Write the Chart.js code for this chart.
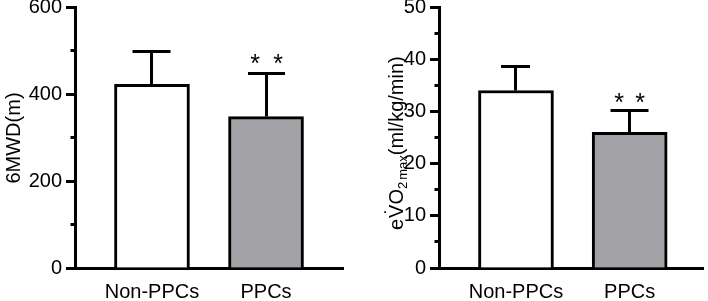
<!DOCTYPE html>
<html><head><meta charset="utf-8">
<script src="https://cdn.jsdelivr.net/npm/chart.js@4.4.1/dist/chart.umd.min.js"></script>
<style>
html,body{margin:0;padding:0;background:#fff;}
#wrap{position:relative;width:708px;height:301px;overflow:hidden;}
.box{position:absolute;top:0;width:354px;height:301px;}
#b1{left:0;} #b2{left:354px;}
canvas{display:block;}
</style></head><body>
<div id="wrap">
  <div class="box" id="b1"><canvas id="c1" width="354" height="301"></canvas></div>
  <div class="box" id="b2"><canvas id="c2" width="354" height="301"></canvas></div>
</div>
<script>
// ---- data ----
const categories = ['Non-PPCs', 'PPCs'];
const mwdMean = [422, 348];
const mwdSD = [76, 100];
const vo2Mean = [34.0, 26.0];
const vo2SD = [4.6, 4.2];
const significance = ['', '**'];
const mwdMajorTicks = [0, 200, 400, 600];
const mwdMinorTicks = [100, 300, 500];
const vo2MajorTicks = [0, 10, 20, 30, 40, 50];
const vo2MinorTicks = [5, 15, 25, 35, 45];
const mwdTitle = '6MWD(m)';
const vo2TitleParts = ['e', 'V', 'O', '2', 'max', '(ml/kg/min)'];

const FAMILY = "'Liberation Sans', Arial, Helvetica, sans-serif";
Chart.defaults.font.family = FAMILY;
Chart.defaults.color = '#000';

const extras = {
  id: 'extras',
  afterDraw(chart, args, o) {
    const ctx = chart.ctx, xs = chart.scales.x, ys = chart.scales.y;
    ctx.save();
    ctx.strokeStyle = '#000';
    ctx.fillStyle = '#000';
    ctx.lineWidth = 3;
    ctx.lineCap = 'butt';
    // minor ticks
    const ax = Math.floor(xs.left) + 0.5;
    o.minor.forEach(v => {
      const py = Math.floor(ys.getPixelForValue(v)) + 0.5;
      ctx.beginPath(); ctx.moveTo(ax - 5, py); ctx.lineTo(ax, py); ctx.stroke();
    });
    // error bars + significance
    o.means.forEach((m, i) => {
      const px = Math.floor(xs.getPixelForValue(i)) + 0.5;
      const top = Math.floor(ys.getPixelForValue(m + o.sd[i])) + 0.5;
      const base = ys.getPixelForValue(m);
      const hw = o.capWidths[i] / 2;
      ctx.beginPath();
      ctx.moveTo(px, base); ctx.lineTo(px, top);
      ctx.moveTo(px - hw, top); ctx.lineTo(px + hw, top);
      ctx.stroke();
      const sig = o.sig[i];
      if (sig) {
        ctx.font = '25px ' + FAMILY;
        ctx.textAlign = 'center';
        ctx.textBaseline = 'alphabetic';
        const n = sig.length;
        for (let k = 0; k < n; k++) {
          const sx = px + (k - (n - 1) / 2) * o.starGap;
          ctx.fillText(sig[k], sx, top - o.starOffset + 14.3);
        }
      }
    });
    // axis title
    o.drawTitle(ctx);
    ctx.restore();
  }
};

function makeChart(id, p) {
  return new Chart(document.getElementById(id), {
    type: 'bar',
    data: {
      datasets: [{
        data: p.means.map((v, i) => ({ x: i, y: v })),
        backgroundColor: ['#ffffff', '#a2a2a6'],
        borderColor: '#000',
        borderWidth: 3,
        barThickness: 75
      }]
    },
    options: {
      responsive: false,
      animation: false,
      events: [],
      layout: { padding: { left: 0, right: p.padRight, top: 7, bottom: 0 } },
      plugins: {
        legend: { display: false },
        tooltip: { enabled: false },
        extras: {
          minor: p.minor, means: p.means, sd: p.sd, sig: significance,
          capWidths: p.capWidths, starGap: p.starGap, starOffset: p.starOffset,
          drawTitle: p.drawTitle
        }
      },
      scales: {
        x: {
          type: 'linear', min: p.xmin, max: p.xmax, z: 1,
          offset: false, bounds: 'data', grace: 0,
          afterBuildTicks: s => { s.ticks = categories.map((c, i) => ({ value: i })); },
          ticks: {
            callback: v => categories[v],
            font: { size: 20 }, color: '#000', padding: 12,
            maxRotation: 0, autoSkip: false
          },
          grid: { display: false, drawTicks: false, offset: false },
          border: { display: true, color: '#000', width: 3 },
          afterFit: s => { s.height = 33; s.paddingLeft = 0; s.paddingRight = 0; }
        },
        y: {
          min: 0, max: p.ymax, z: 1,
          afterBuildTicks: s => { s.ticks = p.major.map(v => ({ value: v })); },
          ticks: { font: { size: 20 }, color: '#000', padding: 4 },
          grid: { drawOnChartArea: false, tickLength: 9, tickWidth: 3, tickColor: '#000' },
          border: { display: true, color: '#000', width: 3 },
          afterFit: s => { s.width = p.yWidth; s.paddingTop = 0; s.paddingBottom = 0; }
        }
      }
    },
    plugins: [extras]
  });
}

makeChart('c1', {
  means: mwdMean, sd: mwdSD, major: mwdMajorTicks, minor: mwdMinorTicks,
  ymax: 600, xmin: -0.675, xmax: 1.675, yWidth: 75, padRight: 11,
  capWidths: [38, 37], starGap: 23, starOffset: 16.3,
  drawTitle(ctx) {
    ctx.save();
    ctx.translate(20, 138);
    ctx.rotate(-Math.PI / 2);
    ctx.font = '20px ' + FAMILY;
    ctx.textAlign = 'center';
    ctx.textBaseline = 'alphabetic';
    ctx.fillText(mwdTitle, 0, 0);
    ctx.restore();
  }
});

makeChart('c2', {
  means: vo2Mean, sd: vo2SD, major: vo2MajorTicks, minor: vo2MinorTicks,
  ymax: 50, xmin: -0.677, xmax: 1.645, yWidth: 85, padRight: 5,
  capWidths: [29, 38], starGap: 21, starOffset: 13.7,
  drawTitle(ctx) {
    ctx.save();
    ctx.translate(49, 230);
    ctx.rotate(-Math.PI / 2);
    ctx.textAlign = 'left';
    ctx.textBaseline = 'alphabetic';
    const big = '20px ' + FAMILY, small = '13px ' + FAMILY;
    let cx = 0;
    const [e, V, O, two, mx, unit] = vo2TitleParts;
    ctx.font = big; ctx.fillText(e, cx, 0); cx += ctx.measureText(e).width + 1;
    const vw = ctx.measureText(V).width;
    ctx.fillText(V, cx, 0);
    ctx.textAlign = 'center';
    ctx.fillText('\u02D9', cx + vw / 2, -4);
    ctx.textAlign = 'left';
    cx += vw;
    ctx.fillText(O, cx, 0); cx += ctx.measureText(O).width;
    ctx.font = small; ctx.fillText(two, cx, 4); cx += ctx.measureText(two).width + 2;
    ctx.fillText(mx, cx, 4); cx += ctx.measureText(mx).width;
    ctx.font = big; ctx.fillText(unit, cx, 0);
    ctx.restore();
  }
});
</script>
</body></html>
